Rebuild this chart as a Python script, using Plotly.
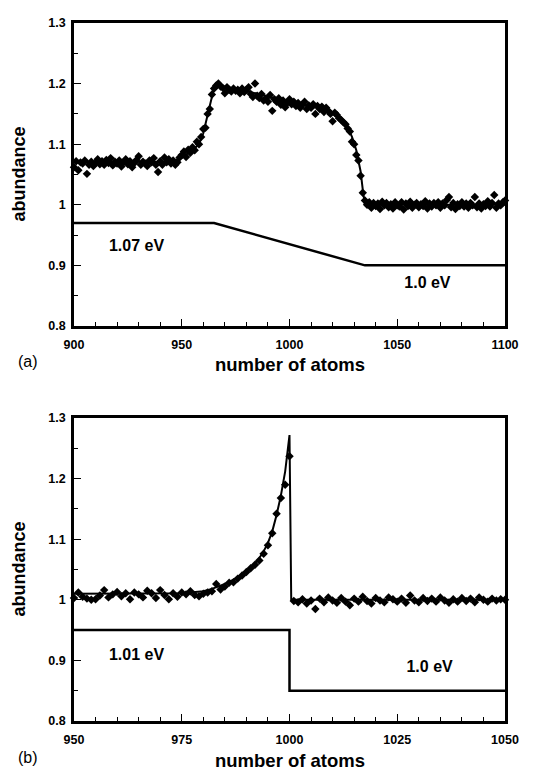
import plotly.graph_objects as go
from plotly.subplots import make_subplots

# ---------------- Panel (a) data ----------------
a_atoms = list(range(900, 1101))
a_abund = [
    1.062, 1.072, 1.057, 1.070, 1.068, 1.073, 1.051, 1.066, 1.071, 1.064,
    1.069, 1.075, 1.067, 1.072, 1.066, 1.074, 1.069, 1.077, 1.065, 1.071,
    1.068, 1.073, 1.063, 1.070, 1.075, 1.067, 1.072, 1.062, 1.069, 1.074,
    1.080, 1.066, 1.071, 1.068, 1.064, 1.073, 1.070, 1.077, 1.066, 1.054,
    1.072, 1.066, 1.078, 1.070, 1.075, 1.068, 1.073, 1.066, 1.070, 1.078,
    1.082, 1.088, 1.079, 1.091, 1.086, 1.095, 1.090, 1.104, 1.100, 1.112,
    1.125, 1.127, 1.150, 1.158, 1.182, 1.192, 1.197, 1.200, 1.195, 1.193,
    1.184, 1.194, 1.190, 1.187, 1.192, 1.188, 1.190, 1.184, 1.192, 1.186,
    1.190, 1.194, 1.183, 1.178, 1.200, 1.180, 1.176, 1.183, 1.172, 1.175,
    1.170, 1.181, 1.155, 1.174, 1.170, 1.176, 1.165, 1.172, 1.161, 1.168,
    1.174, 1.166, 1.170, 1.163, 1.168, 1.160, 1.165, 1.170, 1.158, 1.164,
    1.160, 1.166, 1.150, 1.163, 1.158, 1.162, 1.153, 1.160, 1.155, 1.150,
    1.138, 1.152, 1.148, 1.143, 1.140, 1.136, 1.133, 1.126, 1.121, 1.104,
    1.100, 1.082, 1.073, 1.048, 1.020, 1.007, 1.000, 1.004, 0.995, 1.003,
    0.998, 1.002, 0.993, 1.005, 0.999, 1.003, 0.996, 1.001, 0.994, 1.004,
    0.999, 0.997, 1.004, 0.992, 1.002, 0.998, 1.005, 0.995, 1.000, 1.003,
    0.996, 1.001, 0.998, 1.006, 0.994, 1.002, 0.997, 1.003, 0.999, 1.004,
    0.995, 1.002, 0.999, 1.008, 1.013, 0.996, 1.003, 0.993, 1.001, 0.998,
    1.004, 0.997, 1.002, 0.995, 1.003, 0.999, 1.013, 0.996, 1.002, 0.994,
    1.001, 0.998, 1.006, 0.997, 1.003, 1.016, 0.995, 1.002, 0.999, 1.004,
    1.007,
]
a_fit_x = [900, 945, 950, 955, 958, 960, 962, 964, 965, 967, 970, 980, 990,
           1000, 1010, 1015, 1020, 1024, 1027, 1029, 1031, 1033, 1034, 1035, 1100]
a_fit_y = [1.070, 1.071, 1.078, 1.090, 1.100, 1.118, 1.148, 1.178, 1.193, 1.198,
           1.195, 1.188, 1.178, 1.169, 1.162, 1.158, 1.152, 1.143, 1.128, 1.112,
           1.090, 1.055, 1.025, 1.000, 1.000]
a_energy_x = [900, 965, 1035, 1100]
a_energy_y = [0.97, 0.97, 0.90, 0.90]
a_labels = ["1.07 eV", "1.0 eV"]
a_label_x = [929, 1064]
a_label_y = [0.930, 0.870]
a_xticks = [900, 950, 1000, 1050, 1100]

# ---------------- Panel (b) data ----------------
b_atoms = list(range(950, 1051))
b_abund = [
    1.003, 1.012, 1.005, 1.002, 1.000, 1.001, 1.007, 1.016, 1.004, 1.009,
    1.013, 1.006, 1.011, 1.001, 1.012, 1.009, 1.004, 1.015, 1.011, 1.003,
    1.016, 1.008, 1.001, 1.011, 1.005, 1.012, 1.009, 1.014, 1.008, 1.006,
    1.010, 1.012, 1.014, 1.026, 1.017, 1.022, 1.028, 1.029, 1.035, 1.040,
    1.046, 1.052, 1.058, 1.065, 1.076, 1.090, 1.110, 1.142, 1.168, 1.190,
    1.237,
    0.998, 0.996, 1.001, 0.994, 0.999, 0.985, 1.002, 0.996, 1.004,
    0.999, 0.995, 1.003, 0.997, 0.991, 1.002, 0.997, 1.005, 0.998, 0.994,
    1.003, 0.999, 0.996, 1.004, 1.001, 0.997, 1.002, 0.995, 1.007, 0.999,
    0.996, 1.003, 0.998, 1.002, 0.997, 1.004, 0.999, 0.995, 1.001, 0.997,
    1.003, 0.998, 1.002, 0.996, 1.004, 1.000, 0.997, 1.002, 0.999, 1.001,
    1.000,
]
b_fit_x = [950, 975, 980, 982, 985, 988, 990, 992, 993, 994, 995, 996, 997,
           998, 999, 1000, 1000.4, 1050]
b_fit_y = [1.010, 1.011, 1.014, 1.018, 1.026, 1.037, 1.047, 1.060, 1.069, 1.080,
           1.094, 1.113, 1.140, 1.172, 1.212, 1.272, 1.000, 1.000]
b_energy_x = [950, 1000, 1000, 1050]
b_energy_y = [0.95, 0.95, 0.85, 0.85]
b_labels = ["1.01 eV", "1.0 eV"]
b_label_x = [964.5, 1032.5]
b_label_y = [0.908, 0.887]
b_xticks = [950, 975, 1000, 1025, 1050]

y_ticks = [0.8, 0.9, 1.0, 1.1, 1.2, 1.3]
y_ticktext = ["0.8", "0.9", "1", "1.1", "1.2", "1.3"]
x_title = "number of atoms"
y_title = "abundance"
panel_tags = ["(a)", "(b)"]

FONT = "Liberation Sans, Arial, Helvetica, sans-serif"
BLACK = "#000000"

fig = make_subplots(rows=2, cols=1, vertical_spacing=0.13)

panels = [
    (a_atoms, a_abund, a_fit_x, a_fit_y, a_energy_x, a_energy_y,
     a_labels, a_label_x, a_label_y, a_xticks, [900, 1100], 10),
    (b_atoms, b_abund, b_fit_x, b_fit_y, b_energy_x, b_energy_y,
     b_labels, b_label_x, b_label_y, b_xticks, [950, 1050], 5),
]

for i, (ax, ay, fx, fy, ex, ey, labs, lx, ly, xt, xr, minor_dt) in enumerate(panels, start=1):
    fig.add_trace(go.Scatter(x=ax, y=ay, mode="markers",
                             marker=dict(symbol="diamond", size=6.5, color=BLACK,
                                         line=dict(width=0)),
                             showlegend=False, cliponaxis=False), row=i, col=1)
    fig.add_trace(go.Scatter(x=fx, y=fy, mode="lines",
                             line=dict(color=BLACK, width=2),
                             showlegend=False), row=i, col=1)
    fig.add_trace(go.Scatter(x=ex, y=ey, mode="lines",
                             line=dict(color=BLACK, width=2.5),
                             showlegend=False), row=i, col=1)
    fig.add_trace(go.Scatter(x=lx, y=ly, mode="text", text=labs,
                             textfont=dict(family=FONT, size=16, color=BLACK, weight="bold"),
                             showlegend=False), row=i, col=1)
    fig.update_xaxes(range=xr, tickvals=xt, ticktext=[str(v) for v in xt],
                     ticks="inside", ticklen=7, tickwidth=1, tickcolor=BLACK,
                     minor=dict(dtick=minor_dt, ticks="inside", ticklen=4,
                                tickwidth=1, tickcolor=BLACK),
                     showline=True, linewidth=2.5, linecolor=BLACK, mirror=True,
                     showgrid=False, zeroline=False, ticklabelstandoff=5,
                     tickfont=dict(family=FONT, size=12.5, color=BLACK, weight="bold"),
                     row=i, col=1)
    fig.update_yaxes(range=[0.8, 1.3], tickvals=y_ticks, ticktext=y_ticktext,
                     ticks="inside", ticklen=7, tickwidth=1, tickcolor=BLACK,
                     minor=dict(dtick=0.05, ticks="inside", ticklen=4,
                                tickwidth=1, tickcolor=BLACK),
                     showline=True, linewidth=2.5, linecolor=BLACK, mirror=True,
                     showgrid=False, zeroline=False, ticklabelstandoff=3,
                     tickfont=dict(family=FONT, size=12.5, color=BLACK, weight="bold"),
                     row=i, col=1)
    xref = "x domain" if i == 1 else "x2 domain"
    yref = "y domain" if i == 1 else "y2 domain"
    fig.add_annotation(text=x_title, xref=xref, yref=yref, x=0.5, y=0,
                       yshift=-39, showarrow=False, yanchor="middle",
                       font=dict(family=FONT, size=18.5, color=BLACK, weight="bold"))
    fig.add_annotation(text=y_title, xref=xref, yref=yref, x=0, y=0.5,
                       xshift=-55, textangle=-90, showarrow=False, xanchor="center",
                       font=dict(family=FONT, size=18, color=BLACK, weight="bold"))
    fig.add_annotation(text=panel_tags[i - 1], xref=xref, yref=yref, x=0, y=0,
                       xshift=-46, yshift=-36, showarrow=False,
                       xanchor="center", yanchor="middle",
                       font=dict(family=FONT, size=16, color=BLACK))

fig.update_layout(
    width=555, height=772,
    margin=dict(l=66, r=58, t=8, b=59),
    plot_bgcolor="white", paper_bgcolor="white",
    showlegend=False,
)
fig.update_xaxes(domain=[0, 1])
# plot height = 772 - 8 - 59 = 705 ; each panel 306 px, gap 93 px
fig.layout.yaxis.domain = [399 / 705, 1.0]
fig.layout.yaxis2.domain = [0.0, 306 / 705]

fig.write_html("out.html")
